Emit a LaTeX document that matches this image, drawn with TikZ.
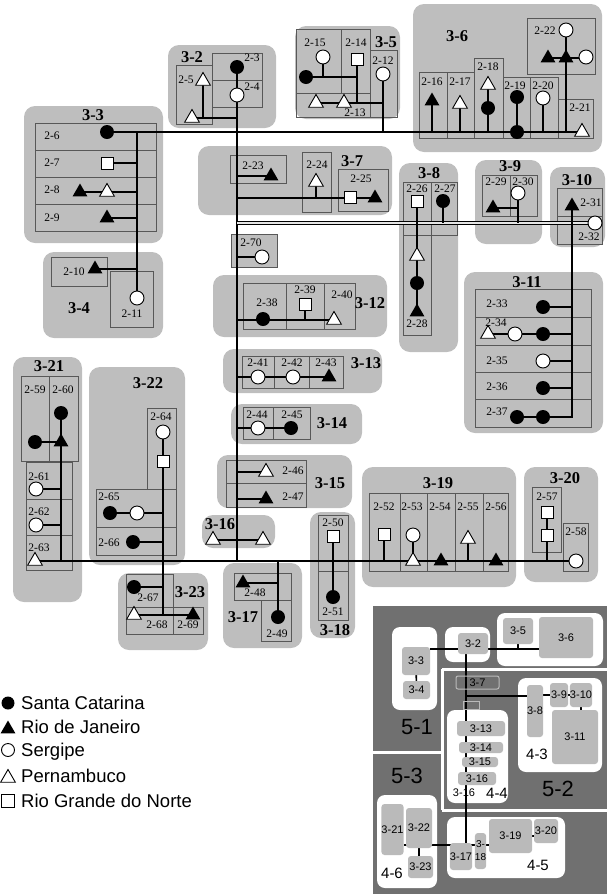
\documentclass[tikz,border=0pt]{standalone}
\usepackage{fontspec}
\setmainfont{Liberation Serif}
\newfontfamily\sansfnt{Liberation Sans}
\usetikzlibrary{shapes.geometric}

\pgfdeclarelayer{boxes}
\pgfdeclarelayer{wires}
\pgfsetlayers{boxes,wires,main}

\definecolor{groupgray}{RGB}{190,190,190}
\definecolor{cellgray}{RGB}{88,88,88}
\definecolor{lvldark}{RGB}{112,112,112}
\definecolor{lvlgray}{RGB}{186,186,186}

\tikzset{
  grpbox/.style={fill=groupgray,rounded corners=11pt},
  cell/.style={draw=cellgray,line width=0.8pt},
  sublab/.style={font=\fontsize{11.5}{11.5}\selectfont,inner sep=0pt},
  grplab/.style={font=\fontsize{16.5}{16.5}\selectfont\bfseries,inner sep=0pt},
  wire/.style={line width=1.8pt},
  sc/.style={circle,fill=black,minimum size=14pt,inner sep=0pt},
  se/.style={circle,draw=black,fill=white,line width=0.9pt,minimum size=14pt,inner sep=0pt},
  rj/.style={regular polygon,regular polygon sides=3,fill=black,minimum size=17pt,inner sep=0pt},
  pe/.style={regular polygon,regular polygon sides=3,draw=black,fill=white,line width=0.9pt,minimum size=17pt,inner sep=0pt},
  rn/.style={rectangle,draw=black,fill=white,line width=0.9pt,minimum size=12pt,inner sep=0pt},
  legtext/.style={font=\sansfnt\fontsize{18.5}{18.5}\selectfont,inner sep=0pt,anchor=base west},
  lvlwhite/.style={fill=white,rounded corners=8pt},
  lvlbox/.style={fill=lvlgray,rounded corners=3pt,inner sep=0pt,font=\sansfnt\fontsize{11}{11}\selectfont},
  lvllab/.style={inner sep=0pt,font=\sansfnt\fontsize{11}{11}\selectfont},
  lvlwire/.style={line width=1.6pt},
}

\begin{document}
\begin{tikzpicture}[x=1pt,y=-1pt]
\useasboundingbox (0,0) rectangle (608,895);

\begin{pgfonlayer}{boxes}
% 3-2
\fill[grpbox] (168,45) rectangle (276,128);
\draw[cell] (212,53) rectangle (262,107) (212,80) -- (262,80);
\draw[cell] (176,65) rectangle (212,124);
% 3-3
\fill[grpbox] (24,106) rectangle (163,243);
\draw[cell] (35,123) rectangle (156,231);
\draw[cell] (35,150) -- (156,150) (35,177) -- (156,177) (35,204) -- (156,204);
% 3-4
\fill[grpbox] (43,252) rectangle (163,338);
\draw[cell] (51,257) rectangle (107,286);
\draw[cell] (110,271) rectangle (153,327);
% 3-5
\fill[grpbox] (295,26) rectangle (400,119);
\draw[cell] (296,29) rectangle (341,93);
\draw[cell] (341,29) rectangle (370,93);
\draw[cell] (296,93) rectangle (370,117);
\draw[cell] (370,50) rectangle (397,117);
% 3-6
\fill[grpbox] (413,4) rectangle (602,152);
\draw[cell] (527,18) rectangle (595,74);
\draw[cell] (419,72) rectangle (447,138);
\draw[cell] (447,72) rectangle (474,138);
\draw[cell] (474,58) rectangle (503,138);
\draw[cell] (503,77) rectangle (530,138);
\draw[cell] (530,77) rectangle (558,138);
\draw[cell] (558,99) rectangle (593,138);
% 3-7
\fill[grpbox] (198,146) rectangle (392,215);
\draw[cell] (230,155) rectangle (286,183);
\draw[cell] (302,152) rectangle (331,212);
\draw[cell] (338,169) rectangle (388,211);
% 2-70
\draw[cell,fill=groupgray] (231,234) rectangle (277,267);
% 3-8
\fill[grpbox] (399,163) rectangle (458,352);
\draw[cell] (403,182) rectangle (457,235) (431,182) -- (431,235);
\draw[cell] (403,235) rectangle (431,335);
% 3-9
\fill[grpbox] (475,160) rectangle (542,244);
\draw[cell] (482,175) rectangle (537,216) (510,175) -- (510,216);
% 3-10
\fill[grpbox] (550,167) rectangle (605,247);
\draw[cell] (557,188) rectangle (602,244) (557,216) -- (602,216);
% 3-11
\fill[grpbox] (464,272) rectangle (603,433);
\draw[cell] (475,289) rectangle (591,427);
\draw[cell] (475,317) -- (591,317) (475,345) -- (591,345) (475,372) -- (591,372) (475,399) -- (591,399);
% 3-12
\fill[grpbox] (213,275) rectangle (387,337);
\draw[cell] (243,283) rectangle (355,329) (286,283) -- (286,329) (324,283) -- (324,329);
% 3-13
\fill[grpbox] (223,349) rectangle (382,393);
\draw[cell] (242,356) rectangle (343,388) (274,356) -- (274,388) (309,356) -- (309,388);
% 3-14
\fill[grpbox] (231,404) rectangle (362,444);
\draw[cell] (243,407) rectangle (310,439) (273,407) -- (273,439);
% 3-15
\fill[grpbox] (217,455) rectangle (352,508);
\draw[cell] (226,460) rectangle (306,507) (226,483) -- (306,483);
% 3-16
\fill[grpbox] (202,515) rectangle (275,548);
% 3-17
\fill[grpbox] (223,563) rectangle (302,648);
\draw[cell] (234,573) rectangle (291,600);
\draw[cell] (261,600) rectangle (291,641);
% 3-18
\fill[grpbox] (310,512) rectangle (355,638);
\draw[cell] (318,515) rectangle (348,620) (318,571) -- (348,571);
% 3-19
\fill[grpbox] (362,467) rectangle (516,587);
\draw[cell] (369,493) rectangle (508,571);
\draw[cell] (400,493) -- (400,571) (427,493) -- (427,571) (455,493) -- (455,571) (483,493) -- (483,571);
% 3-20
\fill[grpbox] (524,467) rectangle (598,582);
\draw[cell] (532,487) rectangle (561,552);
\draw[cell] (563,523) rectangle (588,571);
% 3-21
\fill[grpbox] (13,357) rectangle (82,602);
\draw[cell] (21,376) rectangle (78,461) (49,376) -- (49,461);
\draw[cell] (26,462) rectangle (72,570) (26,499) -- (72,499) (26,535) -- (72,535);
% 3-22
\fill[grpbox] (89,367) rectangle (185,565);
\draw[cell] (147,408) rectangle (176,489);
\draw[cell] (96,489) rectangle (176,555) (96,527) -- (176,527);
% 3-23
\fill[grpbox] (118,573) rectangle (208,650);
\draw[cell] (126,574) rectangle (173,634) (126,607) -- (203,607);
\draw[cell] (173,607) rectangle (203,634);
% level map
\fill[lvldark] (373,606) rectangle (607,894);
\draw[white,line width=3pt] (442,669) -- (607,669) (442,669) -- (442,810) (373,752) -- (442,752) (442,810) -- (607,810);
\fill[lvlwhite] (392,627) rectangle (437,710);
\fill[lvlwhite] (445,627) rectangle (490,662);
\fill[lvlwhite] (497,613) rectangle (603,666);
\fill[lvlwhite] (518,678) rectangle (602,772);
\fill[lvlwhite] (447,710) rectangle (508,803);
\fill[lvlwhite] (377,795) rectangle (437,888);
\fill[lvlwhite] (447,817) rectangle (565,878);
\end{pgfonlayer}

% ---- 3-2
\node[grplab] (g32) at (192,57) {3-2};
\node[sc] (c3) at (237,67) {};
\node[sublab] (l3) at (252,58) {2-3};
\node[se] (w4) at (237,95) {};
\node[sublab] (l4) at (252,87) {2-4};
\node[pe] (p5a) at (203,81) {};
\node[sublab] (l5) at (186,80) {2-5};
\node[pe] (p5b) at (192,118) {};
% ---- 3-3
\node[grplab] (g33) at (93,115) {3-3};
\node[sublab] (l6) at (52,136) {2-6};
\node[sublab] (l7) at (52,163) {2-7};
\node[sublab] (l8) at (52,190) {2-8};
\node[sublab] (l9) at (52,218) {2-9};
\node[sc] (c6) at (107,132) {};
\node[rn] (q7) at (107,163) {};
\node[rj] (t8) at (80,192) {};
\node[pe] (p8) at (107,192) {};
\node[rj] (t9) at (107,218) {};
% ---- 3-4
\node[grplab] (g34) at (79,308) {3-4};
\node[sublab] (l10) at (74,272) {2-10};
\node[sublab] (l11) at (132,314) {2-11};
\node[rj] (t10) at (95,269) {};
\node[se] (w11) at (137,298) {};
% ---- 3-5
\node[grplab] (g35) at (386,42) {3-5};
\node[sublab] (l15) at (315,43) {2-15};
\node[sublab] (l14) at (356,43) {2-14};
\node[sublab] (l12) at (383,61) {2-12};
\node[sublab] (l13) at (355,113) {2-13};
\node[se] (w15) at (323,57) {};
\node[sc] (c15) at (306,77) {};
\node[rn] (q14) at (357,59) {};
\node[pe] (p13a) at (316,103) {};
\node[pe] (p13b) at (344,103) {};
\node[se] (w12) at (383,74) {};
% ---- 3-6
\node[grplab] (g36) at (457,36) {3-6};
\node[sublab] (l22) at (545,31) {2-22};
\node[sublab] (l16) at (432,82) {2-16};
\node[sublab] (l17) at (460,82) {2-17};
\node[sublab] (l18) at (488,67) {2-18};
\node[sublab] (l19) at (515,86) {2-19};
\node[sublab] (l20) at (543,86) {2-20};
\node[sublab] (l21) at (580,108) {2-21};
\node[se] (w22) at (566,30) {};
\node[rj] (t22a) at (548,58) {};
\node[rj] (t22b) at (566,58) {};
\node[se] (w22b) at (586,57) {};
\node[rj] (t16) at (432,101) {};
\node[pe] (p17) at (460,104) {};
\node[pe] (p18) at (488,85) {};
\node[sc] (c18) at (488,108) {};
\node[sc] (c19a) at (517,97) {};
\node[sc] (c19b) at (517,132) {};
\node[se] (w20) at (543,98) {};
\node[pe] (p21) at (582,132) {};
% ---- 3-7
\node[grplab] (g37) at (352,161) {3-7};
\node[sublab] (l23) at (253,166) {2-23};
\node[sublab] (l24) at (317,165) {2-24};
\node[sublab] (l25) at (361,179) {2-25};
\node[rj] (t23) at (271,176) {};
\node[pe] (p24) at (316,182) {};
\node[rn] (q25) at (350,197) {};
\node[rj] (t25) at (375,198) {};
% ---- 2-70
\node[sublab] (l70) at (251,243) {2-70};
\node[se] (w70) at (262,257) {};
% ---- 3-8
\node[grplab] (g38) at (429,173) {3-8};
\node[sublab] (l26) at (417,189) {2-26};
\node[sublab] (l27) at (445,189) {2-27};
\node[sublab] (l28) at (417,324) {2-28};
\node[rn] (q26) at (417,201) {};
\node[sc] (c27) at (443,201) {};
\node[pe] (p28) at (417,256) {};
\node[sc] (c28) at (417,283) {};
\node[rj] (t28) at (417,312) {};
% ---- 3-9
\node[grplab] (g39) at (510,166) {3-9};
\node[sublab] (l29) at (496,182) {2-29};
\node[sublab] (l30) at (523,182) {2-30};
\node[rj] (t29) at (493,208) {};
\node[se] (w30) at (518,193) {};
% ---- 3-10
\node[grplab] (g310) at (577,180) {3-10};
\node[sublab] (l31) at (591,203) {2-31};
\node[sublab] (l32) at (589,237) {2-32};
\node[rj] (t31) at (572,206) {};
\node[se] (w32) at (595,223) {};
% ---- 3-11
\node[grplab] (g311) at (527,282) {3-11};
\node[sublab] (l33) at (497,304) {2-33};
\node[sublab] (l34) at (496,323) {2-34};
\node[sublab] (l35) at (497,361) {2-35};
\node[sublab] (l36) at (497,387) {2-36};
\node[sublab] (l37) at (497,412) {2-37};
\node[sc] (c33) at (543,307) {};
\node[pe] (p34) at (488,334) {};
\node[se] (w34) at (515,334) {};
\node[sc] (c34) at (543,334) {};
\node[se] (w35) at (543,361) {};
\node[sc] (c36) at (543,388) {};
\node[sc] (c37a) at (517,417) {};
\node[sc] (c37b) at (543,417) {};
% ---- 3-12
\node[grplab] (g312) at (370,303) {3-12};
\node[sublab] (l38) at (267,303) {2-38};
\node[sublab] (l39) at (305,290) {2-39};
\node[sublab] (l40) at (342,295) {2-40};
\node[sc] (c38) at (263,319) {};
\node[rn] (q39) at (305,304) {};
\node[pe] (p40) at (334,320) {};
% ---- 3-13
\node[grplab] (g313) at (366,363) {3-13};
\node[sublab] (l41) at (258,363) {2-41};
\node[sublab] (l42) at (292,363) {2-42};
\node[sublab] (l43) at (326,363) {2-43};
\node[se] (w41) at (258,377) {};
\node[se] (w42) at (293,377) {};
\node[rj] (t43) at (329,377) {};
% ---- 3-14
\node[grplab] (g314) at (332,423) {3-14};
\node[sublab] (l44) at (257,415) {2-44};
\node[sublab] (l45) at (292,415) {2-45};
\node[se] (w44) at (258,428) {};
\node[sc] (c45) at (291,428) {};
% ---- 3-15
\node[grplab] (g315) at (330,483) {3-15};
\node[sublab] (l46) at (293,471) {2-46};
\node[sublab] (l47) at (293,497) {2-47};
\node[pe] (p46) at (266,472) {};
\node[rj] (t47) at (266,499) {};
% ---- 3-16
\node[grplab] (g316) at (220,524) {3-16};
\node[pe] (p16a) at (213,540) {};
\node[pe] (p16b) at (263,540) {};
% ---- 3-17
\node[grplab] (g317) at (243,617) {3-17};
\node[sublab] (l48) at (255,593) {2-48};
\node[sublab] (l49) at (277,634) {2-49};
\node[rj] (t48) at (243,583) {};
\node[sc] (c49) at (278,617) {};
% ---- 3-18
\node[grplab] (g318) at (335,630) {3-18};
\node[sublab] (l50) at (333,523) {2-50};
\node[sublab] (l51) at (333,612) {2-51};
\node[rn] (q50) at (333,536) {};
\node[sc] (c51) at (333,597) {};
% ---- 3-19
\node[grplab] (g319) at (438,483) {3-19};
\node[sublab] (l52) at (384,507) {2-52};
\node[sublab] (l53) at (412,507) {2-53};
\node[sublab] (l54) at (440,507) {2-54};
\node[sublab] (l55) at (468,507) {2-55};
\node[sublab] (l56) at (496,507) {2-56};
\node[rn] (q52) at (384,534) {};
\node[se] (w53) at (413,535) {};
\node[pe] (p53) at (413,561) {};
\node[rj] (t54) at (441,561) {};
\node[pe] (p55) at (468,539) {};
\node[rj] (t56) at (496,561) {};
% ---- 3-20
\node[grplab] (g320) at (565,478) {3-20};
\node[sublab] (l57) at (547,497) {2-57};
\node[sublab] (l58) at (576,532) {2-58};
\node[rn] (q57a) at (547,512) {};
\node[rn] (q57b) at (547,535) {};
\node[se] (w58) at (576,561) {};
% ---- 3-21
\node[grplab] (g321) at (49,366) {3-21};
\node[sublab] (l59) at (35,390) {2-59};
\node[sublab] (l60) at (63,390) {2-60};
\node[sublab] (l61) at (39,477) {2-61};
\node[sublab] (l62) at (39,512) {2-62};
\node[sublab] (l63) at (39,548) {2-63};
\node[sc] (c60) at (61,413) {};
\node[sc] (c59) at (35,442) {};
\node[rj] (t60) at (61,442) {};
\node[se] (w61) at (36,489) {};
\node[se] (w62) at (36,525) {};
\node[pe] (p63) at (35,561) {};
% ---- 3-22
\node[grplab] (g322) at (148,383) {3-22};
\node[sublab] (l64) at (161,417) {2-64};
\node[sublab] (l65) at (109,497) {2-65};
\node[sublab] (l66) at (109,543) {2-66};
\node[se] (w64) at (163,432) {};
\node[rn] (q64) at (163,461) {};
\node[sc] (c65) at (110,513) {};
\node[se] (w65) at (137,513) {};
\node[sc] (c66) at (133,542) {};
% ---- 3-23
\node[grplab] (g323) at (190,592) {3-23};
\node[sublab] (l67) at (148,598) {2-67};
\node[sublab] (l68) at (157,625) {2-68};
\node[sublab] (l69) at (188,625) {2-69};
\node[sc] (c67) at (134,587) {};
\node[pe] (p68) at (134,615) {};
\node[rj] (t69) at (193,615) {};

% ---- legend
\node[sc,minimum size=13pt] (kSC) at (8,703) {};
\node[legtext] (tSC) at (21,709.5) {Santa Catarina};
\node[rj] (kRJ) at (8,729) {};
\node[legtext] (tRJ) at (21,733) {Rio de Janeiro};
\node[se,minimum size=13pt] (kSE) at (8,750) {};
\node[legtext] (tSE) at (21,756.5) {Sergipe};
\node[pe] (kPE) at (8,778) {};
\node[legtext] (tPE) at (21,782) {Pernambuco};
\node[rn,minimum size=12.5pt] (kRN) at (8,801) {};
\node[legtext] (tRN) at (21,807) {Rio Grande do Norte};

% ---- level map
\node[lvlbox,minimum width=28pt,minimum height=28pt] (m33) at (416,661) {3-3};
\node[lvlbox,minimum width=27pt,minimum height=18pt] (m34) at (416.5,690) {3-4};
\node[lvlbox,minimum width=30pt,minimum height=21pt] (m32) at (473,643.5) {3-2};
\node[lvlbox,minimum width=30pt,minimum height=26pt] (m35) at (518,631) {3-5};
\node[lvlbox,minimum width=54pt,minimum height=41pt] (m36) at (566,637.5) {3-6};
\node[lvllab,draw=lvlgray,line width=1pt,rounded corners=2pt,minimum width=43pt,minimum height=13pt] (m37) at (477.5,682.5) {3-7};
\node[draw=lvlgray,line width=1pt,minimum width=16pt,minimum height=8pt,inner sep=0pt] (m3x) at (471,705) {};
\node[lvlbox,minimum width=48pt,minimum height=15pt] (m313) at (481,728.5) {3-13};
\node[lvlbox,minimum width=44pt,minimum height=11pt] (m314) at (481,747.5) {3-14};
\node[lvlbox,minimum width=36pt,minimum height=10pt] (m315) at (480,762) {3-15};
\node[lvlbox,minimum width=38pt,minimum height=13pt] (m316) at (477,778.5) {3-16};
\node[lvllab] (m316b) at (464,793) {3-16};
\node[lvlbox,minimum width=16pt,minimum height=52pt] (m38) at (535,711) {3-8};
\node[lvlbox,minimum width=18pt,minimum height=24pt] (m39) at (559,695) {3-9};
\node[lvlbox,minimum width=22pt,minimum height=24pt] (m310) at (581,695) {3-10};
\node[lvlbox,minimum width=46pt,minimum height=54pt] (m311) at (575,737) {3-11};
\node[lvlbox,minimum width=19pt,minimum height=51pt] (m321) at (392.5,829.5) {3-21};
\node[lvlbox,minimum width=26pt,minimum height=40pt] (m322) at (419,828) {3-22};
\node[lvlbox,minimum width=25pt,minimum height=22pt] (m323) at (420.5,867) {3-23};
\node[lvlbox,minimum width=22pt,minimum height=27pt] (m317) at (461,856.5) {3-17};
\node[lvlbox,minimum width=11pt,minimum height=36pt,align=center,font=\sansfnt\fontsize{10}{13}\selectfont] (m318) at (480.5,851) {3-\\18};
\node[lvlbox,minimum width=43pt,minimum height=34pt] (m319) at (510.5,836) {3-19};
\node[lvlbox,minimum width=24pt,minimum height=24pt] (m320) at (546,831) {3-20};
\node[lvllab,font=\sansfnt\fontsize{15}{15}\selectfont] (m43) at (537,754) {4-3};
\node[lvllab,font=\sansfnt\fontsize{15}{15}\selectfont] (m44) at (497,793) {4-4};
\node[lvllab,font=\sansfnt\fontsize{15}{15}\selectfont] (m45) at (538,865) {4-5};
\node[lvllab,font=\sansfnt\fontsize{15}{15}\selectfont] (m46) at (392,873) {4-6};
\node[lvllab,font=\sansfnt\fontsize{22}{22}\selectfont] (m51) at (417,727) {5-1};
\node[lvllab,font=\sansfnt\fontsize{22}{22}\selectfont] (m52) at (558,789) {5-2};
\node[lvllab,font=\sansfnt\fontsize{22}{22}\selectfont] (m53) at (407,776) {5-3};

\begin{pgfonlayer}{wires}
% spine and mains
\coordinate (spineS) at (237,561);
\draw[wire] (c3.center) -- (spineS);
\draw[wire] (c6.center) -- (p21.center);
\coordinate (h2W) at (237,223);
\draw[line width=1pt,double=groupgray!40,double distance=1.1pt] (h2W) -- (w32.center);
\draw[wire] (p63.center) -- (w58.center);
% 3-2
\draw[wire] (p5a.center) -- (p5a.center |- p5b.center);
\draw[wire] (p5b.center) -- (p5b.center -| c3.center);
% 3-3, 3-4
\coordinate (k33) at (137,132);
\draw[wire] (k33) -- (w11.center);
\draw[wire] (q7.center) -- (q7.center -| k33);
\draw[wire] (t8.center) -- (t8.center -| k33);
\draw[wire] (t9.center) -- (t9.center -| k33);
\draw[wire] (t10.center) -- (t10.center -| k33);
% 3-5
\draw[wire] (c15.center) -- (c15.center -| q14.center);
\draw[wire] (w15.center) -- (w15.center |- c15.center);
\draw[wire] (q14.center) -- (q14.center |- p13a.center);
\draw[wire] (p13a.center) -- (p13a.center -| w12.center);
\draw[wire] (w12.center) -- (w12.center |- c6.center);
% 3-6
\draw[wire] (w22.center) -- (w22.center |- c6.center);
\draw[wire] (t22a.center) -- (t22a.center -| w22b.center);
\draw[wire] (t16.center) -- (t16.center |- c6.center);
\draw[wire] (p17.center) -- (p17.center |- c6.center);
\draw[wire] (p18.center) -- (p18.center |- c6.center);
\draw[wire] (c19a.center) -- (c19b.center);
\draw[wire] (w20.center) -- (w20.center |- c6.center);
% 3-7, 2-70
\draw[wire] (t23.center) -- (t23.center -| c3.center);
\draw[wire] (t25.center) -- (t25.center -| c3.center);
\draw[wire] (p24.center) -- (p24.center |- t25.center);
\draw[wire] (w70.center) -- (w70.center -| c3.center);
% 3-8 .. 3-11
\draw[wire] (q26.center) -- (t28.center);
\draw[wire] (c27.center) -- (c27.center |- w32.center);
\draw[wire] (w30.center) -- (w30.center |- w32.center);
\draw[wire] (t29.center) -- (t29.center -| w30.center);
\coordinate (k311) at (572,417);
\draw[wire] (t31.center) -- (k311) -- (c37a.center);
\draw[wire] (c33.center) -- (c33.center -| k311);
\draw[wire] (p34.center) -- (p34.center -| k311);
\draw[wire] (w35.center) -- (w35.center -| k311);
\draw[wire] (c36.center) -- (c36.center -| k311);
% 3-12 .. 3-16
\draw[wire] (p40.center) -- (p40.center -| c3.center);
\draw[wire] (q39.center) -- (q39.center |- p40.center);
\draw[wire] (t43.center) -- (t43.center -| c3.center);
\draw[wire] (c45.center) -- (c45.center -| c3.center);
\draw[wire] (p46.center) -- (p46.center -| c3.center);
\draw[wire] (t47.center) -- (t47.center -| c3.center);
\draw[wire] (p16a.center) -- (p16b.center);
% 3-17 .. 3-20
\draw[wire] (c49.center) -- (c49.center |- w58.center);
\draw[wire] (t48.center) -- (t48.center -| c49.center);
\draw[wire] (q50.center) -- (c51.center);
\draw[wire] (q52.center) -- (q52.center |- w58.center);
\draw[wire] (w53.center) -- (p53.center);
\draw[wire] (p55.center) -- (p55.center |- w58.center);
\draw[wire] (q57a.center) -- (q57a.center |- w58.center);
% 3-21 .. 3-23
\draw[wire] (c60.center) -- (c60.center |- w58.center);
\draw[wire] (c59.center) -- (t60.center);
\draw[wire] (w61.center) -- (w61.center -| c60.center);
\draw[wire] (w62.center) -- (w62.center -| c60.center);
\coordinate (k323) at (163,615);
\draw[wire] (w64.center) -- (k323);
\draw[wire] (c65.center) -- (c65.center -| w64.center);
\draw[wire] (c66.center) -- (c66.center -| w64.center);
\draw[wire] (c67.center) -- (c67.center -| w64.center);
\draw[wire] (p68.center) -- (t69.center);
% level map
\coordinate (mtop) at (518,649);
\coordinate (mmid) at (466,696);
\coordinate (mbot) at (466,845);
\draw[lvlwire] (m33.east |- mtop) -- (m36.west |- mtop);
\draw[lvlwire] (m35.south) -- (mtop);
\draw[lvlwire] (m33) -- (m34);
\draw[lvlwire] (m32.south -| mbot) -- (mbot);
\draw[lvlwire] (mmid) -- (m38.west |- mmid);
\draw[lvlwire] (m38.east |- m39) -- (m39) -- (m310);
\draw[lvlwire] (m310.south) -- (m310.south |- m311.north);
\draw[lvlwire] (m321.east |- mbot) -- (mbot) -- (m319.west |- mbot);
\draw[lvlwire] (m322.south) -- (m322.south |- m323.north);
\draw[lvlwire] (m319.east) -- (m319.east -| m320.west);
\end{pgfonlayer}
\end{tikzpicture}
\end{document}
